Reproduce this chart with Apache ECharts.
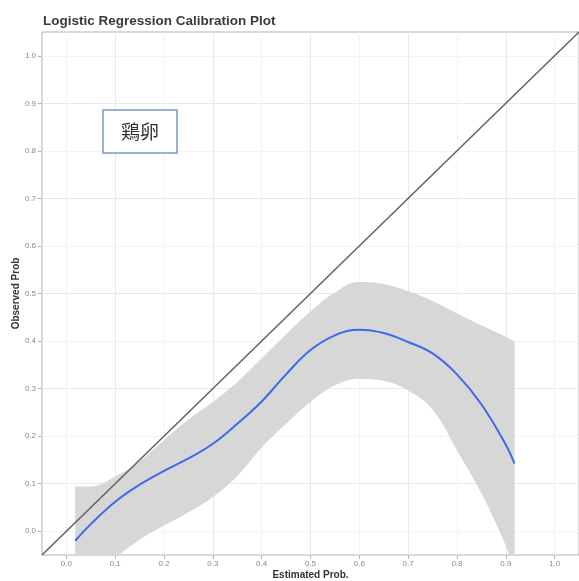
<!DOCTYPE html>
<html>
<head>
<meta charset="utf-8">
<script src="https://cdn.jsdelivr.net/npm/echarts@6/dist/echarts.min.js"></script>
<style>html,body{margin:0;padding:0;background:#fff;}#c{width:579px;height:581px;}</style>
</head>
<body>
<div id="c"></div>
<script>
// ---- data ----
const estProb  = [0.018, 0.05, 0.1, 0.15, 0.2, 0.25, 0.3, 0.35, 0.4, 0.45, 0.5, 0.55, 0.6, 0.65, 0.7, 0.75, 0.8, 0.85, 0.9, 0.918];
const obsFit   = [-0.020, 0.015, 0.062, 0.098, 0.127, 0.153, 0.184, 0.226, 0.273, 0.330, 0.381, 0.412, 0.424, 0.417, 0.398, 0.374, 0.330, 0.267, 0.182, 0.142];
const ciUpper  = [0.094, 0.094, 0.115, 0.147, 0.192, 0.235, 0.272, 0.314, 0.364, 0.414, 0.462, 0.502, 0.524, 0.520, 0.505, 0.484, 0.458, 0.433, 0.409, 0.399];
const ciLower  = [-0.200, -0.140, -0.060, -0.018, 0.012, 0.040, 0.072, 0.116, 0.176, 0.226, 0.272, 0.307, 0.320, 0.316, 0.296, 0.256, 0.170, 0.080, -0.030, -0.080];
const diagonal = [-0.05, 1.05];
const majorTicks = [0, 0.1, 0.2, 0.3, 0.4, 0.5, 0.6, 0.7, 0.8, 0.9, 1.0];
const titleText = 'Logistic Regression Calibration Plot';
const xTitle = 'Estimated Prob.';
const yTitle = 'Observed Prob';
const labelText = '鶏卵';

const chart = echarts.init(document.getElementById('c'), null, {renderer: 'canvas'});

const isMajor = v => Math.abs(Math.round(v * 100)) % 10 === 0;
const fmt = v => isMajor(v) ? (Math.round(v * 10) / 10).toFixed(1) : '';

function makeAxis(name, gap, isX) {
  return {
    type: 'value',
    min: -0.05, max: 1.05, interval: 0.05,
    name: name, nameLocation: 'middle', nameGap: gap, nameMoveOverlap: false,
    nameTextStyle: {fontFamily: 'Liberation Sans', fontSize: 10, fontWeight: 'bold', color: '#333'},
    axisLine: {show: false, onZero: false},
    axisTick: {show: true, inside: false, length: 4, customValues: majorTicks,
               lineStyle: {color: '#b3b3b3', width: 1}},
    axisLabel: {show: true, customValues: majorTicks, formatter: fmt, margin: isX ? 5 : 6,
                fontFamily: 'Liberation Sans', fontSize: 8, color: '#8a8a8a'},
    splitLine: {show: true, showMinLine: true, showMaxLine: true,
                lineStyle: {color: ['#f4f4f4', '#e9e9e9'], width: 1}}
  };
}

// data items are [y, x] so that the stacked dimension is y
const bandBase = estProb.map((x, i) => [ciLower[i], x]);
const bandWidth = estProb.map((x, i) => [ciUpper[i] - ciLower[i], x]);

chart.setOption({
  animation: false,
  backgroundColor: '#fff',
  title: [{
    text: titleText, left: 38, top: 9,
    textStyle: {fontFamily: 'Liberation Sans', fontSize: 13.5, fontWeight: 'bold', color: '#3a3a3a'}
  }, {
    text: labelText, left: 103, top: 110,
    backgroundColor: '#fff', borderColor: '#7e98c8', borderWidth: 1.5, borderRadius: 0,
    padding: [12, 18, 12, 18],
    textStyle: {fontFamily: 'Noto Sans CJK JP', fontSize: 19, fontWeight: 'normal', color: '#333'}
  }],
  grid: {left: 42, top: 32, right: 0, bottom: 26, outerBoundsMode: 'none', containLabel: false,
         show: true, borderColor: '#b3b3b3', borderWidth: 1, backgroundColor: 'transparent'},
  xAxis: makeAxis(xTitle, 15, true),
  yAxis: makeAxis(yTitle, 21, false),
  series: [
    {type: 'line', data: bandBase, encode: {x: 1, y: 0}, stack: 'ci', stackStrategy: 'all', smooth: 0.4, symbol: 'none',
     lineStyle: {opacity: 0}, z: 2, silent: true},
    {type: 'line', data: bandWidth, encode: {x: 1, y: 0}, stack: 'ci', stackStrategy: 'all', smooth: 0.4, symbol: 'none',
     lineStyle: {opacity: 0}, areaStyle: {color: '#d7d7d7', opacity: 1}, z: 2, silent: true},
    {type: 'line', data: estProb.map((x, i) => [x, obsFit[i]]), smooth: 0.4, symbol: 'none',
     lineStyle: {color: '#3d6ae8', width: 2}, z: 3},
    {type: 'line', data: diagonal.map(v => [v, v]), symbol: 'none',
     lineStyle: {color: '#636363', width: 1.6}, z: 4}
  ]
});
</script>
</body>
</html>
